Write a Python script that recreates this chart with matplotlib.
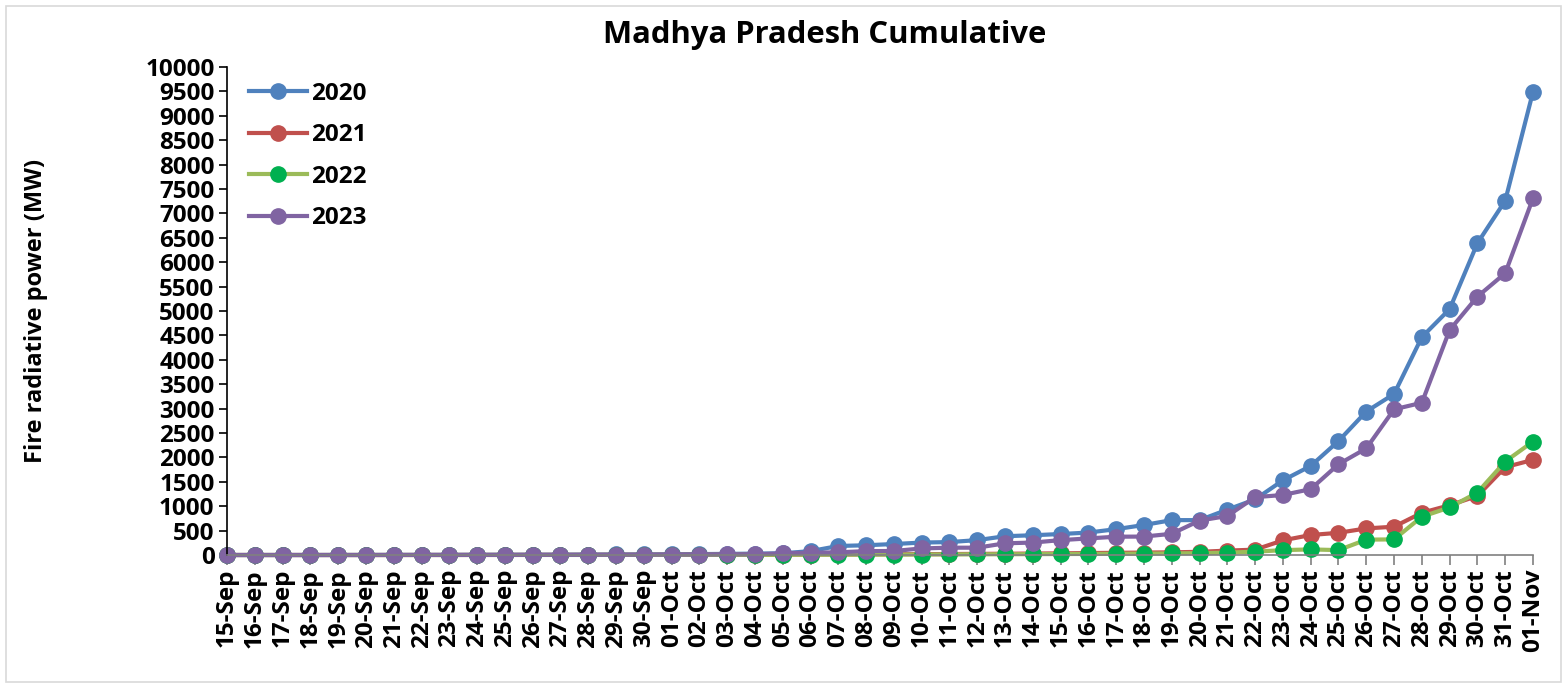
import numpy as np
import matplotlib.pyplot as plt
from matplotlib.patches import Rectangle

plt.rcParams['font.family'] = ['Open Sans', 'DejaVu Sans']
plt.rcParams['font.weight'] = 'bold'

dates = (["%02d-Sep" % d for d in range(15, 31)]
         + ["%02d-Oct" % d for d in range(1, 32)]
         + ["01-Nov"])

frp_2020 = [0, 0, 0, 0, 1, 1, 2, 2, 3, 4, 5, 6, 7, 9, 11, 13,
            16, 19, 23, 28, 35, 80,
            185, 200, 225, 255, 265, 305, 385, 405, 430, 460, 530, 615,
            715, 715, 930, 1140, 1530, 1825, 2335, 2940, 3300, 4465, 5040, 6390, 7260, 9490]
frp_2021 = [0, 0, 0, 0, 0, 0, 0, 1, 1, 1, 1, 2, 2, 2, 3, 3,
            4, 4, 5, 6, 7, 9,
            11, 13, 15, 18, 20, 23, 26, 30, 34, 40, 45, 50,
            55, 65, 90, 110, 300, 410, 455, 545, 580, 865, 1020, 1210, 1800, 1950]
frp_2022 = [0, 0, 0, 0, 0, 0, 0, 0, 0, 1, 1, 1, 1, 1, 2, 2,
            2, 3, 3, 4, 5, 6,
            7, 8, 9, 10, 12, 14, 16, 18, 20, 22, 25, 28,
            32, 38, 48, 68, 100, 115, 100, 315, 320, 785, 975, 1280, 1915, 2325]
frp_2023 = [0, 0, 0, 0, 0, 0, 1, 1, 1, 2, 2, 3, 3, 4, 5, 6,
            8, 10, 12, 15, 34, 48,
            55, 80, 82, 135, 150, 150, 240, 255, 305, 340, 375, 378,
            435, 705, 800, 1185, 1230, 1350, 1860, 2185, 2985, 3120, 4610, 5295, 5775, 7310]

series = [
    ("2020", frp_2020, "#4F81BD", "#4F81BD"),
    ("2021", frp_2021, "#C0504D", "#C0504D"),
    ("2022", frp_2022, "#9BBB59", "#00B050"),
    ("2023", frp_2023, "#8064A2", "#8064A2"),
]

fig = plt.figure(figsize=(15.67, 6.88), dpi=100)
fig.patches.append(Rectangle((0.004, 0.008), 0.992, 0.984, transform=fig.transFigure,
                             fill=False, edgecolor="#D9D9D9", linewidth=1.2))
ax = fig.add_axes([0.1449, 0.1933, 0.8334, 0.7093])

x = np.arange(len(dates))
for name, vals, lc, mc in series:
    ax.plot(x, vals, color=lc, linewidth=3, marker="o", markersize=11,
            markerfacecolor=mc, markeredgecolor=mc, label=name, clip_on=False)

ax.set_xlim(0, len(dates) - 1)
ax.set_ylim(0, 10000)
ax.set_yticks(np.arange(0, 10001, 500))
ax.set_xticks(x)
ax.set_xticklabels(dates, rotation=90)
ax.tick_params(axis="both", labelsize=17.5, direction="out", pad=3)
ax.tick_params(axis="y", length=6, width=1.2)
ax.tick_params(axis="x", length=7, width=1.2, color="#808080")
for lab in ax.get_xticklabels() + ax.get_yticklabels():
    lab.set_fontweight("bold")

ax.spines["top"].set_visible(False)
ax.spines["right"].set_visible(False)
ax.spines["left"].set_linewidth(1.2)
ax.spines["bottom"].set_color("#808080")
ax.spines["bottom"].set_linewidth(1.2)

ax.set_ylabel("Fire radiative power (MW)", fontsize=17, fontweight="bold", labelpad=70)
fig.text(825 / 1567, 1 - 35 / 688, "Madhya Pradesh Cumulative", fontsize=22.3,
         fontweight="bold", ha="center", va="center")

leg = ax.legend(loc="upper left", bbox_to_anchor=(0.0, 1.015), frameon=False,
                fontsize=17.5, handlelength=2.4, labelspacing=0.72, handletextpad=0.15)
for t in leg.get_texts():
    t.set_fontweight("bold")

fig.savefig("out.png", dpi=100)
